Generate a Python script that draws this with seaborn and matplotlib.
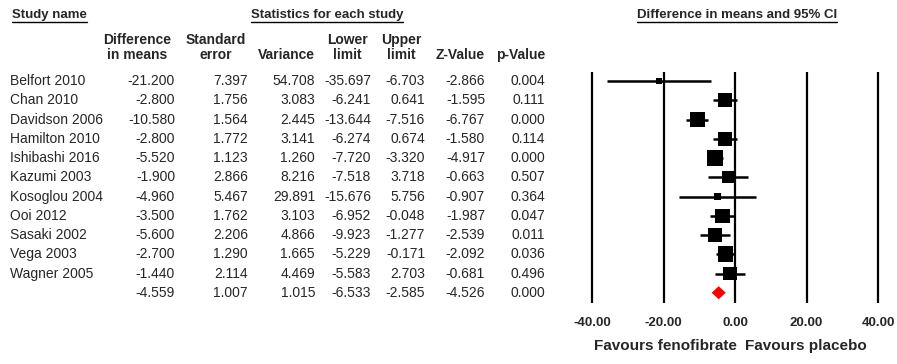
"""
Forest plot: fenofibrate vs placebo, difference in means
"""
import matplotlib
matplotlib.use('Agg')
from matplotlib import pyplot as plt
import numpy as np
import pandas as pd
import seaborn as sns

studies = ['Belfort 2010', 'Chan 2010', 'Davidson 2006', 'Hamilton 2010', 'Ishibashi 2016',
           'Kazumi 2003', 'Kosoglou 2004', 'Ooi 2012', 'Sasaki 2002', 'Vega 2003', 'Wagner 2005']
diff = [-21.200, -2.800, -10.580, -2.800, -5.520, -1.900, -4.960, -3.500, -5.600, -2.700, -1.440]
se = [7.397, 1.756, 1.564, 1.772, 1.123, 2.866, 5.467, 1.762, 2.206, 1.290, 2.114]
variance = [54.708, 3.083, 2.445, 3.141, 1.260, 8.216, 29.891, 3.103, 4.866, 1.665, 4.469]
lower = [-35.697, -6.241, -13.644, -6.274, -7.720, -7.518, -15.676, -6.952, -9.923, -5.229, -5.583]
upper = [-6.703, 0.641, -7.516, 0.674, -3.320, 3.718, 5.756, -0.048, -1.277, -0.171, 2.703]
zval = [-2.866, -1.595, -6.767, -1.580, -4.917, -0.663, -0.907, -1.987, -2.539, -2.092, -0.681]
pval = [0.004, 0.111, 0.000, 0.114, 0.000, 0.507, 0.364, 0.047, 0.011, 0.036, 0.496]
# pooled: diff, se, variance, lower, upper, z, p
pooled = [-4.559, 1.007, 1.015, -6.533, -2.585, -4.526, 0.000]
tau2 = 6.3  # between-study variance (random effects weights)
ticks = [-40, -20, 0, 20, 40]

col_headers = ['Difference\nin means', 'Standard\nerror', 'Variance', 'Lower\nlimit',
               'Upper\nlimit', 'Z-Value', 'p-Value']

df = pd.DataFrame({'study': studies, 'diff': diff, 'se': se, 'var': variance,
                   'lower': lower, 'upper': upper, 'z': zval, 'p': pval})
df['row'] = np.arange(len(df))
df['weight'] = 1 / (df['var'] + tau2)

W, H, DPI = 897, 364, 100
sns.set_style('white')
plt.rcParams['font.family'] = ['Liberation Sans', 'DejaVu Sans']

fig = plt.figure(figsize=(W / DPI, H / DPI), dpi=DPI)

# pixel helpers
def fx(px):
    return px / W

def fy(py):
    return 1 - py / H

# full-figure overlay axes in pixel coords for headers
ax_t = fig.add_axes([0, 0, 1, 1])
ax_t.set_xlim(0, W)
ax_t.set_ylim(H, 0)
ax_t.axis('off')

# forest axes: -40..40 spans pixels 592..878, rows between y=72 and y=303
px_per_unit = (878 - 592) / 80
x_left = 735 - 42 * px_per_unit
x_right = 735 + 42 * px_per_unit
row_px0, row_step = 81, 19.25
top_px, bot_px = 72, 303
y_top = (top_px - row_px0) / row_step
y_bot = (bot_px - row_px0) / row_step

ax = fig.add_axes([fx(x_left), fy(bot_px), fx(x_right - x_left), (bot_px - top_px) / H])
ax.set_xlim(-42, 42)
ax.set_ylim(y_bot, y_top)

# table axes sharing row positions with the forest
ax_tab = fig.add_axes([0, fy(bot_px), fx(585), (bot_px - top_px) / H], sharey=ax)
ax_tab.set_xlim(0, 585)
ax_tab.axis('off')

# vertical reference lines
for t in ticks:
    ax.axvline(t, color='black', lw=1.6, zorder=1)

# confidence intervals
ax.hlines(df['row'], df['lower'], df['upper'], color='black', lw=1.8, zorder=2)

# squares sized by weight
side_px = 44 * np.sqrt(df['weight'])
sns.scatterplot(data=df, x='diff', y='row', marker='s', color='black', linewidth=0,
                s=(side_px * 72 / DPI) ** 2, ax=ax, zorder=3, legend=False)

# pooled diamond
n = len(df)
h = 0.34
ax.fill([pooled[3], pooled[0], pooled[4], pooled[0]], [n, n - h, n, n + h],
        color='#ff0000', lw=0, zorder=3)

for s in ax.spines.values():
    s.set_visible(False)
ax.set_xticks(ticks)
ax.set_xticklabels(['%.2f' % t for t in ticks], fontsize=9.5, fontweight='bold')
ax.tick_params(axis='x', length=0, pad=10)
ax.set_yticks([])
ax.set_xlabel('')
ax.set_ylabel('')

# table body
col_right = [175, 248, 315, 371, 425, 485, 545]
fs = 10
for i, r in df.iterrows():
    ax_tab.text(10, r['row'], r['study'], fontsize=fs, va='center', ha='left')
    vals = [r['diff'], r['se'], r['var'], r['lower'], r['upper'], r['z'], r['p']]
    for x, v in zip(col_right, vals):
        ax_tab.text(x, r['row'], '%.3f' % v, fontsize=fs, va='center', ha='right')
for x, v in zip(col_right, pooled):
    ax_tab.text(x, n, '%.3f' % v, fontsize=fs, va='center', ha='right')

# column headers
head_right = [171, 246, 315, 368, 421, 485, 545]
for x, lab in zip(head_right, col_headers):
    ax_t.text(x, 62, lab, fontsize=fs, fontweight='bold', ha='right', va='bottom',
              multialignment='center', linespacing=1.05)

# top headers, underlined
tops = [
    ax_t.text(12, 15, 'Study name', fontsize=9.5, fontweight='bold', ha='left', va='center'),
    ax_t.text(327, 15, 'Statistics for each study', fontsize=9.5, fontweight='bold',
              ha='center', va='center'),
    ax_t.text(737, 15, 'Difference in means and 95% CI', fontsize=9.5, fontweight='bold',
              ha='center', va='center'),
]
fig.canvas.draw()
renderer = fig.canvas.get_renderer()
for t in tops:
    bb = t.get_window_extent(renderer)
    ax_t.plot([bb.x0, bb.x1], [22, 22], color='black', lw=1.0)

# favours labels
ax_t.text(737, 346, 'Favours fenofibrate', fontsize=11, fontweight='bold', ha='right', va='center')
ax_t.text(745, 346, 'Favours placebo', fontsize=11, fontweight='bold', ha='left', va='center')

plt.savefig('out.png', dpi=DPI)
